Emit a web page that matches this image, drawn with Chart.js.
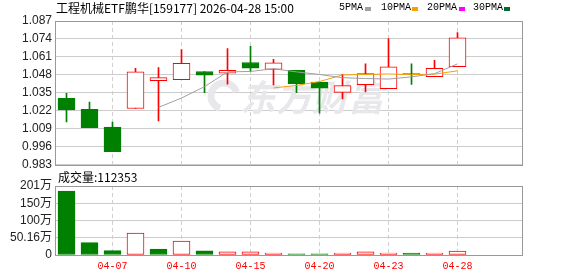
<!DOCTYPE html>
<html>
<head>
<meta charset="utf-8">
<script src="https://cdn.jsdelivr.net/npm/chart.js@4.4.1/dist/chart.umd.min.js"></script>
<style>
html,body{margin:0;padding:0;background:#fff;}
#wrap{position:relative;width:578px;height:276px;overflow:hidden;background:#fff;}
.box{position:absolute;left:0;width:578px;}
#priceBox{top:0;height:176px;}
#volBox{top:172px;height:104px;}
.txt{position:absolute;white-space:nowrap;color:#000;}
.cjk{font-family:"Noto Sans CJK SC",sans-serif;font-size:12px;line-height:16px;}
.lg{font-family:"Liberation Mono",monospace;font-size:10px;line-height:16px;top:0;}
.sw{position:absolute;top:7px;width:6px;height:4px;}
</style>
</head>
<body>
<div id="wrap">
  <div class="box" id="priceBox"><canvas id="priceChart" width="578" height="176"></canvas></div>
  <div class="box" id="volBox"><canvas id="volChart" width="578" height="104"></canvas></div>
  <div class="txt cjk" style="left:56px;top:0px;">工程机械ETF鹏华[159177] 2026-04-28 15:00</div>
  <div class="txt lg" style="left:339px;">5PMA</div><div class="sw" style="left:365px;background:#a0a0a0;"></div>
  <div class="txt lg" style="left:381px;">10PMA</div><div class="sw" style="left:412px;background:#f5a000;"></div>
  <div class="txt lg" style="left:427px;">20PMA</div><div class="sw" style="left:459px;background:#ff00ff;"></div>
  <div class="txt lg" style="left:473px;">30PMA</div><div class="sw" style="left:504px;background:#006a30;"></div>
  <div class="txt cjk" style="left:58px;top:169px;">成交量:112353</div>
</div>
<script>
// daily data
const dates = ['04-02','04-03','04-07','04-08','04-09','04-10','04-13','04-14','04-15','04-16','04-17','04-20','04-21','04-22','04-23','04-24','04-27','04-28'];
const opens  = [1.0311,1.0232,1.0103,1.0237,1.0439,1.0446,1.0505,1.0493,1.0570,1.0520,1.0513,1.0429,1.0354,1.0410,1.0381,1.0490,1.0467,1.0539];
const closes = [1.0227,1.0098,0.9925,1.0503,1.0460,1.0563,1.0479,1.0513,1.0529,1.0568,1.0417,1.0385,1.0403,1.0489,1.0539,1.0483,1.0527,1.0748];
const highs  = [1.0347,1.0283,1.0139,1.0527,1.0534,1.0664,1.0505,1.0671,1.0687,1.0592,1.0513,1.0429,1.0484,1.0561,1.0743,1.0561,1.0585,1.0786];
const lows   = [1.0141,1.0098,0.9925,1.0237,1.0148,1.0446,1.0352,1.0414,1.0505,1.0407,1.0352,1.0203,1.0306,1.0357,1.0381,1.0412,1.0467,1.0539];
const ma5  = [null,null,null,null,1.0245,1.0313,1.0395,1.0502,1.0505,1.0525,1.0502,1.0483,1.0460,1.0454,1.0450,1.0466,1.0489,1.0560];
const ma10 = [null,null,null,null,null,null,null,null,null,1.0386,1.0404,1.0432,1.0480,1.0483,1.0487,1.0482,1.0485,1.0510];
// volume in 万, and whether the bar is drawn as an up (red) bar
const volumes = [186,35.8,12.6,64,17.4,40.7,12,9.5,9.5,5.8,3.3,3.3,5.8,9.5,5.8,5.8,5.8,11.24];
const volUp = [false,false,false,true,false,true,false,true,true,true,false,false,true,true,true,false,true,true];

const priceTicks = [0.983,0.996,1.009,1.022,1.035,1.048,1.061,1.074,1.087];
const volTicks = [0,50.16,100.32,150.48,200.64];
const volTickLabels = ['0','50.16万','100万','150万','201万'];
const dateTickIdx = [2,5,8,11,14,17];

const RED = '#ff0000', GREEN = '#008000';
const X_MIN = -0.4565, X_MAX = 19.804;
const isUp = i => closes[i] >= opens[i];

// box round the plot area, bottom/right lines just outside it
const frame = {
  id:'frame',
  afterDraw(chart){
    const {ctx, chartArea:a} = chart;
    const l = Math.round(a.left)-0.5, t = Math.round(a.top)+0.5;
    const r = Math.round(a.right)+0.5, b = Math.round(a.bottom)+0.5;
    ctx.save();
    ctx.strokeStyle = '#999';
    ctx.lineWidth = 1;
    ctx.strokeRect(l, t, r-l, b-t);
    ctx.restore();
  }
};

const watermark = {
  id:'watermark',
  beforeDatasetsDraw(chart){
    const ctx = chart.ctx;
    ctx.save();
    ctx.fillStyle = '#e8e8ec';
    ctx.strokeStyle = '#e8e8ec';
    ctx.lineWidth = 7;
    ctx.beginPath();
    ctx.arc(224, 96, 13, 0.6*Math.PI, 1.9*Math.PI);
    ctx.stroke();
    ctx.font = 'italic bold 36px "Noto Sans CJK SC"';
    ctx.textBaseline = 'middle';
    ctx.fillText('东方财富', 240, 97);
    ctx.restore();
  }
};

const xScale = (showLabels) => ({
  type:'linear', min:X_MIN, max:X_MAX, offset:false,
  grid:{color:'#d0d0d0', drawTicks:false, offset:false},
  border:{display:false, dash:[4,3]},
  afterBuildTicks: s => { s.ticks = dateTickIdx.map(v => ({value:v})); },
  afterFit: s => { s.height = showLabels ? 21 : 0; },
  ticks:{
    display:showLabels, padding:5, color:RED, maxRotation:0, autoSkip:false,
    font:{family:'"Liberation Mono", monospace', size:10},
    callback: v => dates[v]
  }
});

const tickFont = {family:'"Liberation Sans", "Noto Sans CJK SC", sans-serif', size:12};

new Chart(document.getElementById('priceChart'), {
  type:'bar',
  data:{
    datasets:[
      {
        type:'line', label:'5PMA', order:0,
        data: ma5.map((v,i)=>({x:i, y:v})).filter(p=>p.y!==null),
        borderColor:'#a0a0a0', borderWidth:1, pointRadius:0, tension:0
      },
      {
        type:'line', label:'10PMA', order:0,
        data: ma10.map((v,i)=>({x:i, y:v})).filter(p=>p.y!==null),
        borderColor:'#f5a000', borderWidth:1, pointRadius:0, tension:0
      },
      {
        label:'body', order:1, grouped:false, barThickness:17, borderWidth:1, borderSkipped:false,
        data: dates.map((d,i)=>({x:i, y:[opens[i], closes[i]]})),
        backgroundColor: c => isUp(c.dataIndex) ? '#ffffff' : GREEN,
        borderColor: c => isUp(c.dataIndex) ? RED : GREEN
      },
      {
        label:'wick', order:2, grouped:false, barThickness:1, borderWidth:0,
        data: dates.map((d,i)=>({x:i, y:[lows[i], highs[i]]})),
        backgroundColor: c => isUp(c.dataIndex) ? RED : GREEN
      }
    ]
  },
  options:{
    responsive:false, animation:false, devicePixelRatio:1,
    layout:{padding:{left:0, right:56, top:21, bottom:10}},
    plugins:{legend:{display:false}, tooltip:{enabled:false}},
    scales:{
      x: xScale(false),
      y:{
        min:0.983, max:1.087,
        afterBuildTicks: s => { s.ticks = priceTicks.map(v => ({value:v})); },
        afterFit: s => { s.width = 56; },
        grid:{color:'#cccccc', drawTicks:false},
        border:{display:false},
        ticks:{padding:4, color:'#222', font:tickFont, autoSkip:false, callback: v => v.toFixed(3)}
      }
    }
  },
  plugins:[watermark, frame]
});

new Chart(document.getElementById('volChart'), {
  type:'bar',
  data:{
    datasets:[{
      label:'成交量', grouped:false, barThickness:17, borderWidth:1, borderSkipped:false,
      data: volumes.map((v,i)=>({x:i, y:v})),
      backgroundColor: c => volUp[c.dataIndex] ? '#ffffff' : GREEN,
      borderColor: c => volUp[c.dataIndex] ? RED : GREEN
    }]
  },
  options:{
    responsive:false, animation:false, devicePixelRatio:1,
    layout:{padding:{left:0, right:56, top:14, bottom:0}},
    plugins:{legend:{display:false}, tooltip:{enabled:false}},
    scales:{
      x: xScale(true),
      y:{
        min:0, max:200.64,
        afterBuildTicks: s => { s.ticks = volTicks.map(v => ({value:v})); },
        afterFit: s => { s.width = 56; },
        grid:{color:'#cccccc', drawTicks:false},
        border:{display:false},
        ticks:{padding:4, color:'#222', font:tickFont, autoSkip:false, callback: (v,i) => volTickLabels[i]}
      }
    }
  },
  plugins:[frame]
});
</script>
</body>
</html>
